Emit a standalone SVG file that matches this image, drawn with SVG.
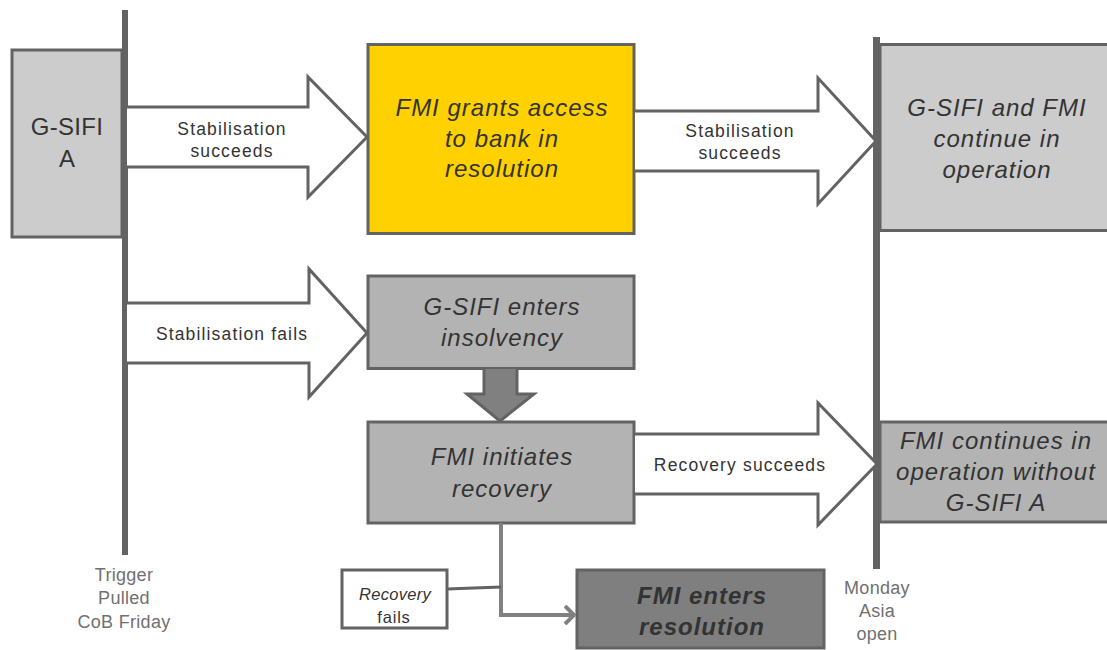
<svg xmlns="http://www.w3.org/2000/svg" width="1107" height="650" viewBox="0 0 1107 650">
  <style>
    .box { stroke: #636363; stroke-width: 3; }
    .light { fill: #cccccc; }
    .mid { fill: #b3b3b3; }
    .dark { fill: #7f7f7f; }
    .gold { fill: #ffd100; }
    .block { fill: #ffffff; stroke: #636363; stroke-width: 3; stroke-linejoin: miter; }
    .t { font-family: "Liberation Sans", Arial, sans-serif; fill: #333333; text-anchor: middle; }
    .big { font-size: 24px; font-style: italic; letter-spacing: 1px; }
    .lbl { font-size: 17.5px; letter-spacing: 1.15px; }
    .axis { font-family: "Liberation Sans", Arial, sans-serif; font-size: 18px; fill: #707070; text-anchor: middle; letter-spacing: 0.3px; }
    .bar { fill: #636363; }
  </style>
  <defs>
    <marker id="chev" viewBox="0 0 12 20" refX="10" refY="10" markerWidth="12" markerHeight="20" markerUnits="userSpaceOnUse" orient="auto">
      <path d="M1,1 L10,10 L1,19" fill="none" stroke="#808080" stroke-width="4"/>
    </marker>
  </defs>

  <!-- time axes -->
  <g id="timeline">
    <rect class="bar" x="122" y="10" width="6" height="545"/>
    <rect class="bar" x="873" y="37" width="7" height="532"/>
    <text class="axis" x="124" y="581">Trigger</text>
    <text class="axis" x="124" y="604">Pulled</text>
    <text class="axis" x="124" y="628">CoB Friday</text>
    <text class="axis" x="877" y="594">Monday</text>
    <text class="axis" x="877" y="617">Asia</text>
    <text class="axis" x="877" y="640">open</text>
  </g>

  <!-- nodes -->
  <g id="gsifi-a">
    <rect class="box light" x="12" y="50" width="110" height="187"/>
    <text class="t" x="67" y="135" font-size="24" letter-spacing="0.3">G-SIFI</text>
    <text class="t" x="67" y="167" font-size="24">A</text>
  </g>

  <g id="fmi-grants-access">
    <rect class="box gold" x="368" y="44.5" width="266" height="189"/>
    <text class="t big" x="502" y="116">FMI grants access</text>
    <text class="t big" x="502" y="147">to bank in</text>
    <text class="t big" x="502" y="177">resolution</text>
  </g>

  <g id="continue-in-operation">
    <rect class="box light" x="880" y="44.5" width="232" height="186"/>
    <text class="t big" x="997" y="116">G-SIFI and FMI</text>
    <text class="t big" x="997" y="147">continue in</text>
    <text class="t big" x="997" y="178">operation</text>
  </g>

  <g id="enters-insolvency">
    <rect class="box mid" x="368" y="276" width="266" height="92.5"/>
    <text class="t big" x="502" y="315">G-SIFI enters</text>
    <text class="t big" x="502" y="346">insolvency</text>
  </g>

  <g id="initiates-recovery">
    <rect class="box mid" x="368" y="422" width="266" height="101"/>
    <text class="t big" x="502" y="465">FMI initiates</text>
    <text class="t big" x="502" y="497">recovery</text>
  </g>

  <g id="continues-without">
    <rect class="box mid" x="880" y="422" width="232" height="100"/>
    <text class="t big" x="996" y="449">FMI continues in</text>
    <text class="t big" x="996" y="480">operation without</text>
    <text class="t big" x="996" y="511">G-SIFI A</text>
  </g>

  <g id="recovery-fails">
    <rect class="box" fill="#ffffff" x="342" y="570" width="105" height="58"/>
    <text class="t" x="395" y="600" font-size="16.5" font-style="italic" letter-spacing="0.3">Recovery</text>
    <text class="t" x="394" y="623" font-size="16.5" letter-spacing="0.8">fails</text>
  </g>

  <g id="enters-resolution">
    <rect class="box dark" x="577" y="570" width="247" height="78"/>
    <text class="t big" x="702" y="604" font-weight="bold">FMI enters</text>
    <text class="t big" x="702" y="635" font-weight="bold">resolution</text>
  </g>

  <!-- connectors -->
  <g id="connectors">
    <!-- trigger to access: stabilisation succeeds -->
    <path class="block" d="M127,107 H308 V77 L367,137 L308,197 V167 H127"/>
    <text class="t lbl" x="232" y="135">Stabilisation</text>
    <text class="t lbl" x="232" y="157">succeeds</text>

    <!-- access to continued operation -->
    <path class="block" d="M635,111 H818 V78 L876,141 L818,204 V171 H635"/>
    <text class="t lbl" x="740" y="137">Stabilisation</text>
    <text class="t lbl" x="740" y="159">succeeds</text>

    <!-- trigger to insolvency: stabilisation fails -->
    <path class="block" d="M127,303 H309 V269 L367,333 L309,397 V363 H127"/>
    <text class="t lbl" x="232" y="340">Stabilisation fails</text>

    <!-- insolvency to recovery -->
    <path d="M484,369 V394 H467 L500,421 L534,394 H517 V369" fill="#808080" stroke="#636363" stroke-width="3" stroke-linejoin="miter"/>

    <!-- recovery to continued operation without G-SIFI -->
    <path class="block" d="M635,434 H818 V403 L877,464 L818,525 V494 H635"/>
    <text class="t lbl" x="740" y="471">Recovery succeeds</text>

    <!-- recovery fails to resolution -->
    <path d="M501,523 V615 H574" fill="none" stroke="#808080" stroke-width="4" marker-end="url(#chev)"/>
    <line x1="447" y1="589" x2="501" y2="587" stroke="#636363" stroke-width="3"/>
  </g>
</svg>
